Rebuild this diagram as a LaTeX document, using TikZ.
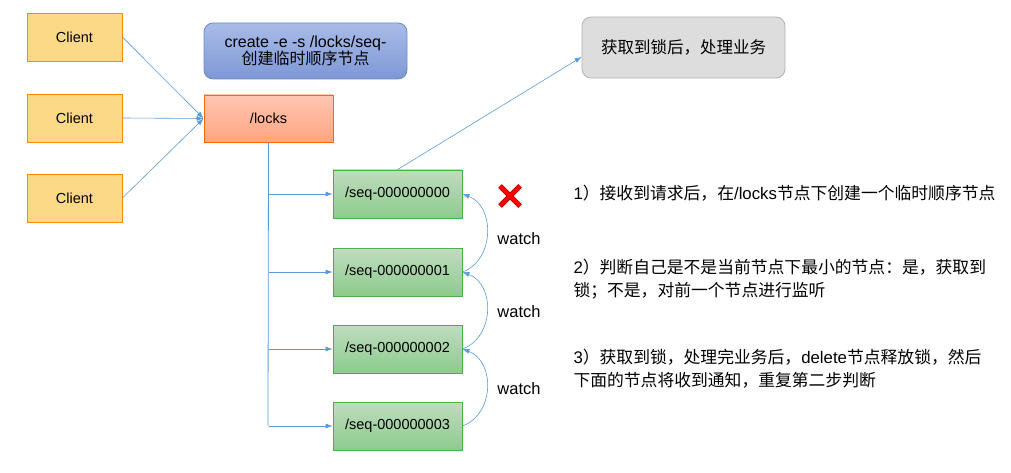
\documentclass[tikz,border=0pt]{standalone}
\usepackage{fontspec}
\setmainfont{Liberation Sans}
\newfontfamily\cjk{Noto Sans CJK SC}
\usetikzlibrary{arrows.meta}
\definecolor{ln}{HTML}{5B9BD5}
\definecolor{bt}{HTML}{A9BCE8}
\definecolor{bb}{HTML}{7E97D6}
\definecolor{bd}{HTML}{6C8EBF}
\begin{document}
\begin{tikzpicture}[x=1pt,y=-1pt,
  box/.style={draw,line width=0.8pt,minimum width=#1,inner sep=0pt,font=\fontsize{14.5}{17}\selectfont,align=center},
  client/.style={box=95pt,minimum height=48pt,draw=orange!90!yellow,fill=yellow!40!orange!45},
  seq/.style={box=129pt,minimum height=48pt,draw=green!55!black!70,top color=green!45!black!25!white,bottom color=green!55!black!45!white},
  con/.style={ln,line width=0.6pt,-{Latex[length=7pt,width=5pt]}},
  txt/.style={anchor=west,align=left,font=\fontsize{16.8}{23}\selectfont}]
\useasboundingbox (0,0) rectangle (1011,473);
\node[client] (c1) at (74.5,37) {Client};
\node[client] (c2) at (74.5,118) {Client};
\node[client] (c3) at (74.5,198) {Client};
\node[box=203pt,minimum height=56pt,rounded corners=9pt,draw=bd,top color=bt,bottom color=bb,font=\fontsize{16}{19}\selectfont] (cr) at (305.5,51) {create -e -s /locks/seq-\\[-2pt]{\cjk 创建临时顺序节点}};
\node[box=129pt,minimum height=47pt,draw=orange!80!red,top color=orange!50!red!30!white,bottom color=orange!60!red!50!white] (lk) at (268.5,118.5) {/locks};
\node[box=203pt,minimum height=61pt,rounded corners=9pt,draw=gray!60,fill=gray!27,font=\fontsize{16.5}{19}\selectfont] (gt) at (683.5,47.5) {\cjk 获取到锁后，处理业务};
\node[seq] (s0) at (397.5,194) {/seq-000000000};
\node[seq] (s1) at (397.5,272) {/seq-000000001};
\node[seq] (s2) at (397.5,349) {/seq-000000002};
\node[seq] (s3) at (397.5,426) {/seq-000000003};
\foreach \c in {c1,c2,c3} \draw[con] (\c.east) -- (lk.west);
\coordinate (tr) at (268,426);
\draw[ln,line width=0.8pt] (lk.south) -- (tr);
\foreach \s in {s0,s1,s2,s3} \draw[con] (lk.south |- \s.west) -- (\s.west);
\draw[con] (s0.north) -- (gt.west |- 0,57);
\draw[con] (s1.east) .. controls (495,260) and (495,206) .. (s0.east);
\draw[con] (s2.east) .. controls (495,337) and (495,284) .. (s1.east);
\draw[con] (s3.east) .. controls (495,414) and (495,361) .. (s2.east);
\node[font=\fontsize{16.5}{19}\selectfont] (w1) at (519,239) {watch};
\node[font=\fontsize{16.5}{19}\selectfont] (w2) at (519,312) {watch};
\node[font=\fontsize{16.5}{19}\selectfont] (w3) at (519,389) {watch};
\node (x) at (510,196) {\tikz[x=1pt,y=1pt]{\draw[red,line width=5pt,draw=red!70!black] (-10,-10)--(10,10) (-10,10)--(10,-10);\draw[red,line width=3.8pt] (-10,-10)--(10,10) (-10,10)--(10,-10);}};
\node[txt] (t1) at (570,193) {1{\cjk ）接收到请求后，在}/locks{\cjk 节点下创建一个临时顺序节点}};
\node[txt] (t2) at (570,279) {2{\cjk ）判断自己是不是当前节点下最小的节点：是，获取到}\\{\cjk 锁；不是，对前一个节点进行监听}};
\node[txt] (t3) at (570,369) {3{\cjk ）获取到锁，处理完业务后，}delete{\cjk 节点释放锁，然后}\\{\cjk 下面的节点将收到通知，重复第二步判断}};
\end{tikzpicture}
\end{document}
